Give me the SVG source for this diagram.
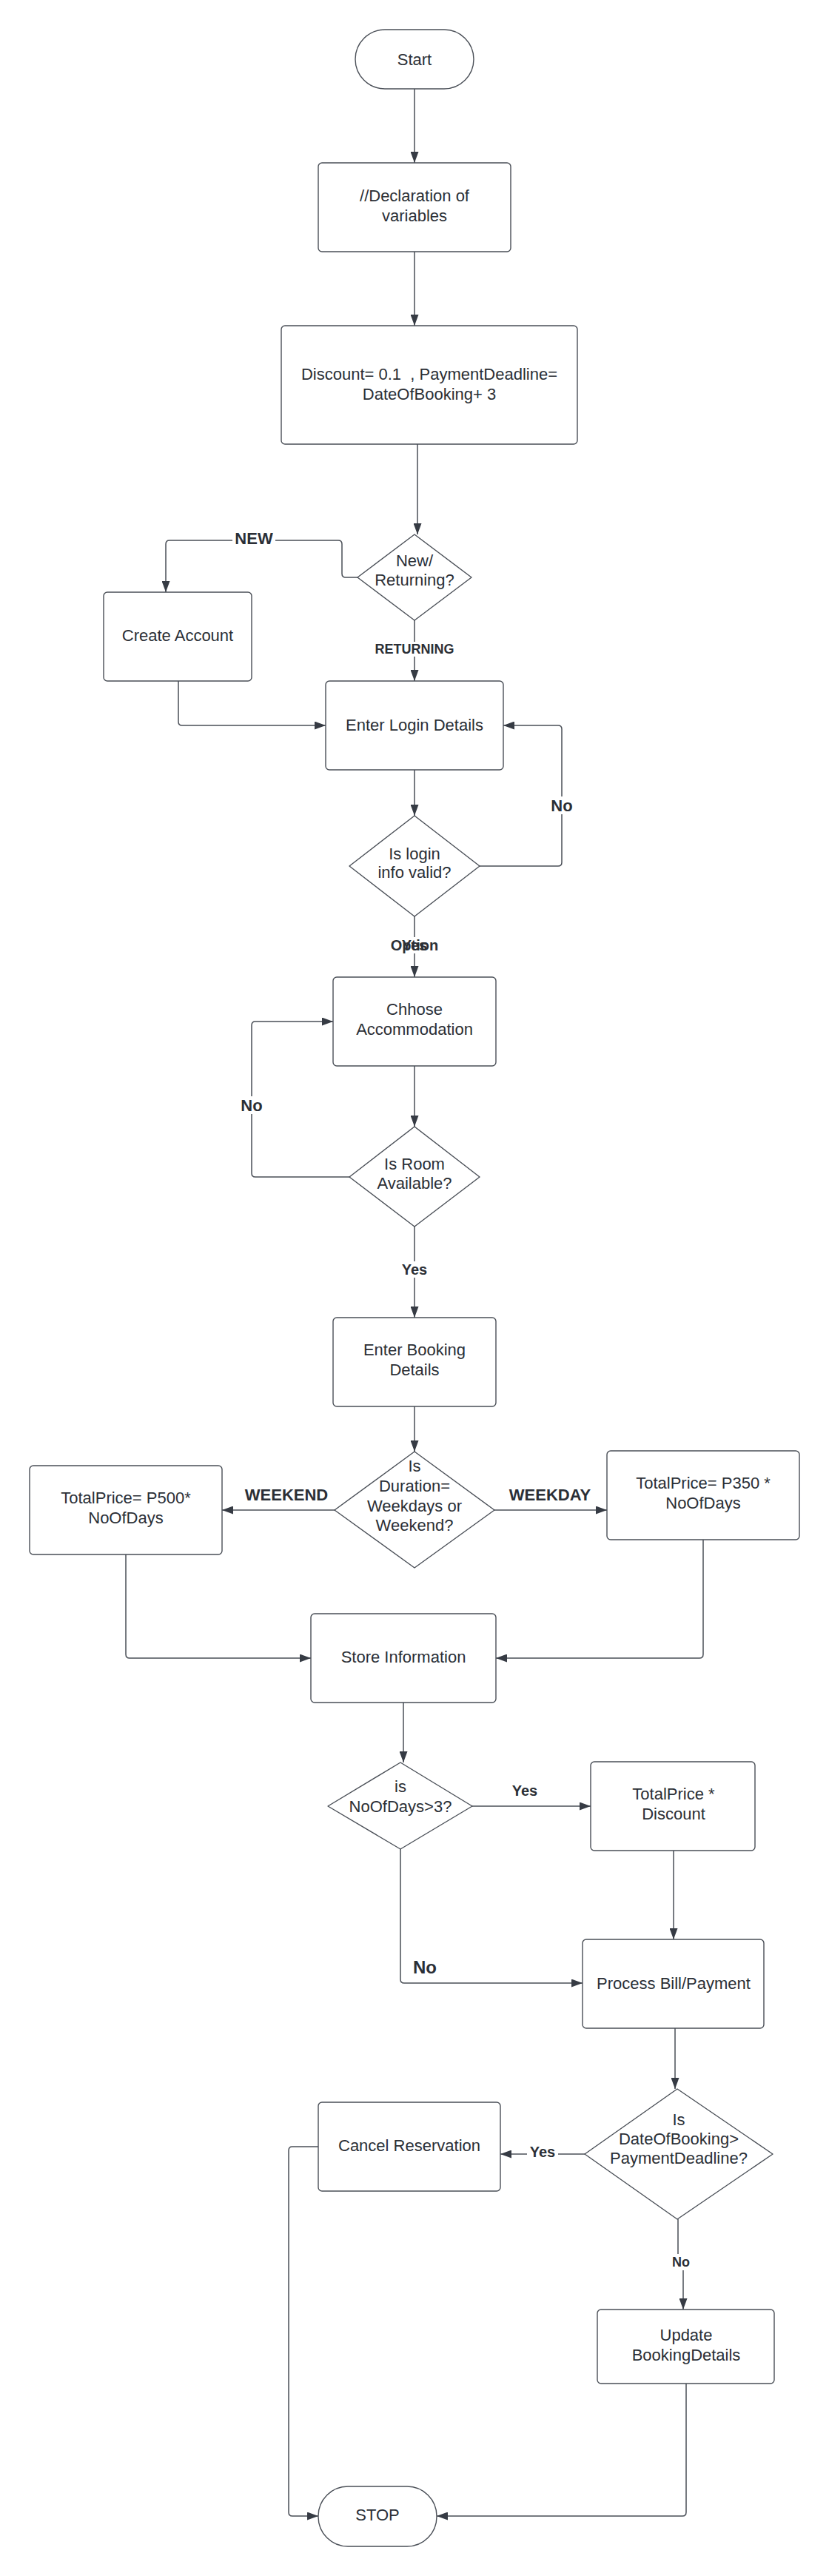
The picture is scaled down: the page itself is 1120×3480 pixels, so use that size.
<svg xmlns="http://www.w3.org/2000/svg" width="1120" height="3480" viewBox="0 0 1120 3480">
<defs>
<marker id="arr" markerUnits="userSpaceOnUse" markerWidth="15" markerHeight="11" refX="15" refY="5.5" orient="auto">
<path d="M0,0 L15,5.5 L0,11 z" fill="#363b44"/>
</marker>
<style>
.n{fill:#fff;stroke:#4a4f57;stroke-width:1.4}
.t{font-family:"Liberation Sans",Arial,sans-serif;font-size:22px;fill:#2b2f36;text-anchor:middle}
.c{fill:none;stroke:#4a4f57;stroke-width:1.5;marker-end:url(#arr)}
.cn{fill:none;stroke:#4a4f57;stroke-width:1.5}
.l{font-family:"Liberation Sans",Arial,sans-serif;font-weight:bold;fill:#2b2f36;text-anchor:middle}
.bg{fill:#fff}
</style>
</defs>
<rect width="1120" height="3480" fill="#fff"/>

<g id="connectors">
<path class="c" d="M560,120 V220"/>
<path class="c" d="M560,340 V440"/>
<path class="c" d="M564,600 V722"/>
<path class="c" d="M483,780 H467 Q462,780 462,775 V735 Q462,730 457,730 H229 Q224,730 224,735 V800"/>
<path class="c" d="M560,838 V920"/>
<path class="c" d="M241,920 V975 Q241,980 246,980 H440"/>
<path class="c" d="M560,1040 V1102"/>
<path class="c" d="M648,1170 H754 Q759,1170 759,1165 V985 Q759,980 754,980 H680"/>
<path class="c" d="M560,1238 V1320"/>
<path class="c" d="M560,1440 V1522"/>
<path class="c" d="M472,1590 H345 Q340,1590 340,1585 V1385 Q340,1380 345,1380 H450"/>
<path class="c" d="M560,1657 V1780"/>
<path class="c" d="M560,1900 V1961"/>
<path class="c" d="M452,2040 H300"/>
<path class="c" d="M668,2040 H820"/>
<path class="c" d="M170,2100 V2235 Q170,2240 175,2240 H420"/>
<path class="c" d="M950,2080 V2235 Q950,2240 945,2240 H670"/>
<path class="c" d="M545,2300 V2381"/>
<path class="c" d="M638,2440 H798"/>
<path class="c" d="M910,2500 V2620"/>
<path class="c" d="M541,2498 V2674 Q541,2679 546,2679 H787"/>
<path class="c" d="M912,2740 V2822"/>
<path class="c" d="M790,2910 H676"/>
<path class="c" d="M916,2998 V3056 H923 V3120"/>
<path class="c" d="M430,2900 H395 Q390,2900 390,2905 V3394 Q390,3399 395,3399 H430"/>
<path class="c" d="M927,3220 V3394 Q927,3399 922,3399 H590"/>

<rect class="bg" x="314" y="715" width="58" height="26"/>
<text class="l" x="343" y="735" font-size="22">NEW</text>
<rect class="bg" x="506" y="867" width="108" height="20"/>
<text class="l" x="560" y="883" font-size="18">RETURNING</text>
<rect class="bg" x="744" y="1076" width="30" height="24"/>
<text class="l" x="759" y="1096" font-size="22">No</text>
<rect class="bg" x="526" y="1266" width="68" height="22"/>
<text class="l" x="560" y="1284" font-size="20">Option</text>
<text class="l" x="560" y="1284" font-size="20">Yes</text>
<rect class="bg" x="325" y="1481" width="30" height="24"/>
<text class="l" x="340" y="1501" font-size="22">No</text>
<rect class="bg" x="538" y="1704" width="44" height="22"/>
<text class="l" x="560" y="1722" font-size="20">Yes</text>
<text class="l" x="387" y="2027" font-size="22">WEEKEND</text>
<text class="l" x="743" y="2027" font-size="22">WEEKDAY</text>
<text class="l" x="709" y="2426" font-size="20">Yes</text>
<text class="l" x="574" y="2666" font-size="24">No</text>
<rect class="bg" x="712" y="2896" width="42" height="22"/>
<text class="l" x="733" y="2914" font-size="20">Yes</text>
<rect class="bg" x="906" y="3045" width="28" height="22"/>
<text class="l" x="920" y="3062" font-size="18">No</text>
</g>

<g id="start">
<rect class="n" x="480" y="40" width="160" height="80" rx="40"/>
<text class="t" x="560" y="88">Start</text>
</g>
<g id="declaration">
<rect class="n" x="430" y="220" width="260" height="120" rx="5"/>
<text class="t" x="560" y="272">//Declaration of</text>
<text class="t" x="560" y="299">variables</text>
</g>
<g id="discount">
<rect class="n" x="380" y="440" width="400" height="160" rx="5"/>
<text class="t" x="580" y="513" xml:space="preserve">Discount= 0.1  , PaymentDeadline=</text>
<text class="t" x="580" y="540">DateOfBooking+ 3</text>
</g>
<g id="new-returning">
<path class="n" d="M560,722 L637,780 L560,838 L483,780 Z" stroke-linejoin="round"/>
<text class="t" x="560" y="765">New/</text>
<text class="t" x="560" y="791">Returning?</text>
</g>
<g id="create-account">
<rect class="n" x="140" y="800" width="200" height="120" rx="5"/>
<text class="t" x="240" y="866">Create Account</text>
</g>
<g id="enter-login">
<rect class="n" x="440" y="920" width="240" height="120" rx="5"/>
<text class="t" x="560" y="987">Enter Login Details</text>
</g>
<g id="login-valid">
<path class="n" d="M560,1102 L648,1170 L560,1238 L472,1170 Z" stroke-linejoin="round"/>
<text class="t" x="560" y="1161">Is login</text>
<text class="t" x="560" y="1186">info valid?</text>
</g>
<g id="choose-accommodation">
<rect class="n" x="450" y="1320" width="220" height="120" rx="5"/>
<text class="t" x="560" y="1371">Chhose</text>
<text class="t" x="560" y="1398">Accommodation</text>
</g>
<g id="room-available">
<path class="n" d="M560,1522 L648,1590 L560,1657 L472,1590 Z" stroke-linejoin="round"/>
<text class="t" x="560" y="1580">Is Room</text>
<text class="t" x="560" y="1606">Available?</text>
</g>
<g id="enter-booking">
<rect class="n" x="450" y="1780" width="220" height="120" rx="5"/>
<text class="t" x="560" y="1831">Enter Booking</text>
<text class="t" x="560" y="1858">Details</text>
</g>
<g id="duration">
<path class="n" d="M560,1961 L668,2040 L560,2118 L452,2040 Z" stroke-linejoin="round"/>
<text class="t" x="560" y="1988">Is</text>
<text class="t" x="560" y="2015">Duration=</text>
<text class="t" x="560" y="2042">Weekdays or</text>
<text class="t" x="560" y="2068">Weekend?</text>
</g>
<g id="weekend-price">
<rect class="n" x="40" y="1980" width="260" height="120" rx="5"/>
<text class="t" x="170" y="2031">TotalPrice= P500*</text>
<text class="t" x="170" y="2058">NoOfDays</text>
</g>
<g id="weekday-price">
<rect class="n" x="820" y="1960" width="260" height="120" rx="5"/>
<text class="t" x="950" y="2011">TotalPrice= P350 *</text>
<text class="t" x="950" y="2038">NoOfDays</text>
</g>
<g id="store-information">
<rect class="n" x="420" y="2180" width="250" height="120" rx="5"/>
<text class="t" x="545" y="2246">Store Information</text>
</g>
<g id="nodays">
<path class="n" d="M541,2381 L638,2440 L541,2498 L443,2440 Z" stroke-linejoin="round"/>
<text class="t" x="541" y="2421">is</text>
<text class="t" x="541" y="2448">NoOfDays&gt;3?</text>
</g>
<g id="apply-discount">
<rect class="n" x="798" y="2380" width="222" height="120" rx="5"/>
<text class="t" x="910" y="2431">TotalPrice *</text>
<text class="t" x="910" y="2458">Discount</text>
</g>
<g id="process-bill">
<rect class="n" x="787" y="2620" width="245" height="120" rx="5"/>
<text class="t" x="910" y="2687">Process Bill/Payment</text>
</g>
<g id="deadline">
<path class="n" d="M915,2822 L1044,2910 L915,2998 L790,2910 Z" stroke-linejoin="round"/>
<text class="t" x="917" y="2871">Is</text>
<text class="t" x="917" y="2897">DateOfBooking&gt;</text>
<text class="t" x="917" y="2923">PaymentDeadline?</text>
</g>
<g id="cancel-reservation">
<rect class="n" x="430" y="2840" width="246" height="120" rx="5"/>
<text class="t" x="553" y="2906">Cancel Reservation</text>
</g>
<g id="update-booking">
<rect class="n" x="807" y="3120" width="239" height="100" rx="5"/>
<text class="t" x="927" y="3162">Update</text>
<text class="t" x="927" y="3189">BookingDetails</text>
</g>
<g id="stop">
<rect class="n" x="430" y="3359" width="160" height="81" rx="40"/>
<text class="t" x="510" y="3405">STOP</text>
</g>
</svg>
